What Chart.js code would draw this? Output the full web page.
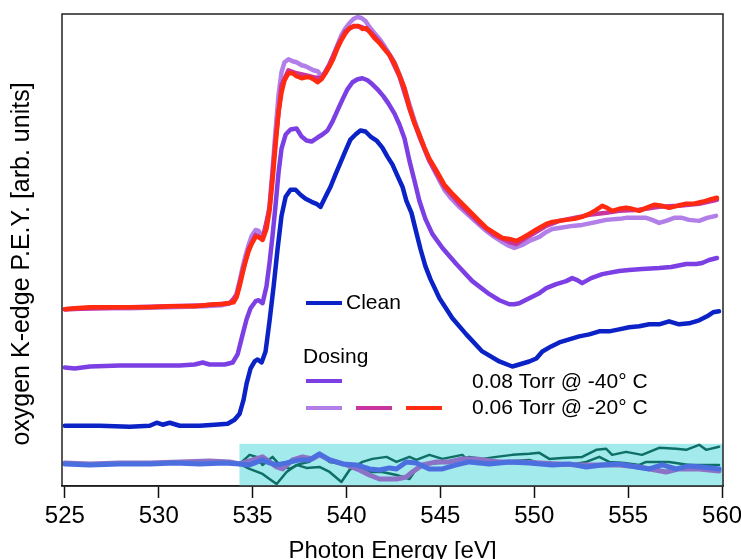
<!DOCTYPE html>
<html>
<head>
<meta charset="utf-8">
<script src="https://cdn.jsdelivr.net/npm/chart.js@4.4.1/dist/chart.umd.min.js"></script>
<style>
  html, body { margin: 0; padding: 0; background: #fff; }
  #wrap { width: 741px; height: 559px; }
</style>
</head>
<body>
<div id="wrap"><canvas id="xas" width="741" height="559"></canvas></div>
<script>
// O K-edge spectra, [photon energy eV, signal arb.]
const clean = [[525.00,0.60],[526.86,0.60],[528.46,0.59],[529.52,0.60],[529.89,0.63],[530.21,0.61],[530.59,0.63],[531.12,0.60],[532.18,0.60],[532.98,0.61],[533.67,0.62],[534.04,0.66],[534.31,0.72],[534.52,0.86],[534.68,1.02],[534.89,1.17],[535.11,1.24],[535.27,1.26],[535.48,1.23],[535.69,1.34],[535.90,1.64],[536.12,1.99],[536.33,2.36],[536.54,2.69],[536.76,2.88],[537.02,2.95],[537.29,2.95],[537.55,2.90],[537.82,2.86],[538.14,2.83],[538.40,2.81],[538.62,2.78],[538.88,2.88],[539.15,2.98],[539.41,3.10],[539.68,3.22],[539.95,3.34],[540.21,3.45],[540.48,3.50],[540.74,3.54],[541.01,3.53],[541.28,3.48],[541.60,3.44],[541.91,3.37],[542.18,3.28],[542.45,3.20],[542.71,3.09],[542.98,2.98],[543.19,2.84],[543.46,2.72],[543.67,2.56],[543.94,2.36],[544.20,2.19],[544.47,2.06],[544.95,1.87],[545.64,1.67],[546.38,1.51],[547.23,1.34],[548.14,1.24],[548.83,1.19],[549.20,1.21],[549.73,1.24],[550.11,1.27],[550.43,1.34],[550.90,1.39],[551.33,1.43],[551.86,1.46],[552.39,1.49],[552.93,1.51],[553.46,1.54],[553.99,1.54],[554.52,1.56],[555.05,1.58],[555.59,1.59],[556.12,1.61],[556.65,1.61],[557.18,1.64],[557.71,1.61],[558.24,1.62],[558.78,1.65],[559.20,1.69],[559.52,1.73],[559.84,1.74]];

const dose08 = [[525.00,1.18],[525.53,1.17],[526.33,1.19],[527.93,1.20],[529.52,1.20],[531.12,1.20],[531.91,1.21],[532.34,1.23],[532.71,1.21],[533.51,1.21],[533.94,1.23],[534.20,1.31],[534.47,1.51],[534.68,1.66],[534.89,1.77],[535.16,1.84],[535.32,1.85],[535.53,1.82],[535.74,1.99],[535.90,2.22],[536.06,2.49],[536.22,2.79],[536.38,3.12],[536.54,3.36],[536.76,3.50],[537.02,3.55],[537.34,3.56],[537.61,3.48],[537.87,3.44],[538.14,3.43],[538.46,3.47],[538.72,3.50],[538.99,3.54],[539.26,3.63],[539.52,3.74],[539.79,3.85],[540.05,3.95],[540.32,4.02],[540.59,4.05],[540.85,4.06],[541.12,4.04],[541.38,4.00],[541.65,3.95],[541.97,3.88],[542.23,3.81],[542.55,3.71],[542.82,3.60],[543.09,3.46],[543.35,3.24],[543.62,3.04],[543.88,2.84],[544.20,2.66],[544.57,2.51],[545.11,2.37],[545.85,2.21],[546.70,2.04],[547.61,1.91],[548.14,1.85],[548.67,1.81],[548.94,1.81],[549.20,1.82],[549.73,1.87],[550.27,1.92],[550.64,1.97],[551.17,2.01],[551.70,2.04],[552.02,2.07],[552.29,2.05],[552.55,2.02],[553.03,2.07],[553.62,2.11],[554.52,2.14],[555.05,2.15],[555.74,2.16],[556.65,2.17],[557.29,2.18],[558.09,2.21],[558.62,2.21],[558.94,2.22],[559.31,2.25],[559.73,2.27]];

const dose06a = [[525.00,1.76],[526.33,1.77],[528.46,1.77],[530.59,1.78],[532.45,1.79],[533.35,1.80],[533.78,1.82],[533.99,1.86],[534.15,1.92],[534.31,2.04],[534.47,2.18],[534.63,2.30],[534.79,2.40],[534.95,2.49],[535.16,2.55],[535.32,2.54],[535.53,2.48],[535.74,2.59],[535.90,2.79],[536.06,3.14],[536.22,3.54],[536.38,3.89],[536.54,4.12],[536.70,4.22],[536.91,4.25],[537.13,4.23],[537.34,4.22],[537.61,4.19],[537.82,4.18],[538.03,4.16],[538.24,4.14],[538.46,4.13],[538.67,4.08],[538.88,4.12],[539.10,4.20],[539.31,4.29],[539.52,4.39],[539.73,4.49],[539.95,4.56],[540.16,4.61],[540.37,4.65],[540.59,4.67],[540.80,4.66],[541.01,4.63],[541.22,4.57],[541.49,4.51],[541.76,4.45],[542.02,4.38],[542.29,4.30],[542.55,4.22],[542.82,4.10],[543.09,3.96],[543.35,3.80],[543.62,3.64],[543.88,3.50],[544.15,3.36],[544.41,3.24],[544.79,3.10],[545.21,2.95],[545.59,2.86],[546.01,2.78],[546.54,2.69],[547.07,2.60],[547.45,2.54],[547.87,2.48],[548.30,2.43],[548.67,2.39],[548.94,2.37],[549.36,2.40],[549.73,2.44],[550.27,2.48],[550.64,2.53],[550.96,2.56],[551.33,2.57],[552.02,2.59],[552.55,2.60],[553.09,2.62],[553.83,2.65],[554.52,2.66],[554.89,2.67],[555.59,2.67],[555.96,2.67],[556.28,2.65],[556.65,2.62],[557.02,2.64],[557.45,2.67],[557.87,2.67],[558.24,2.65],[558.78,2.64],[559.20,2.67],[559.68,2.69]];

const dose06b = [[525.00,1.76],[528.46,1.78],[532.45,1.80],[533.78,1.82],[534.15,1.90],[534.47,2.14],[534.79,2.36],[535.16,2.50],[535.53,2.46],[535.90,2.76],[536.22,3.44],[536.54,3.99],[536.91,4.14],[537.34,4.11],[537.82,4.09],[538.24,4.07],[538.67,4.06],[539.10,4.20],[539.52,4.38],[539.95,4.53],[540.37,4.58],[540.80,4.57],[541.22,4.53],[541.76,4.42],[542.29,4.29],[542.82,4.08],[543.35,3.76],[543.88,3.48],[544.41,3.24],[545.21,2.98],[546.01,2.81],[547.07,2.62],[547.87,2.50],[548.67,2.43],[549.04,2.41],[549.73,2.49],[550.64,2.59],[551.33,2.64],[552.13,2.67],[552.93,2.70],[553.83,2.72],[554.52,2.74],[555.59,2.75],[556.65,2.78],[557.71,2.79],[558.78,2.81],[559.73,2.85]];

const dose06c = [[525.00,1.76],[525.53,1.77],[526.33,1.78],[527.39,1.78],[528.46,1.78],[529.52,1.78],[530.59,1.79],[531.38,1.79],[531.91,1.79],[532.45,1.80],[532.98,1.81],[533.35,1.81],[533.67,1.82],[533.99,1.83],[534.15,1.88],[534.31,1.99],[534.47,2.12],[534.63,2.24],[534.79,2.34],[534.95,2.41],[535.16,2.48],[535.32,2.48],[535.53,2.45],[535.74,2.56],[535.90,2.74],[536.06,3.04],[536.22,3.39],[536.38,3.72],[536.54,3.92],[536.70,4.04],[536.91,4.11],[537.13,4.11],[537.34,4.08],[537.61,4.06],[537.82,4.07],[538.03,4.07],[538.24,4.05],[538.46,4.02],[538.67,4.05],[538.88,4.11],[539.10,4.18],[539.31,4.26],[539.52,4.36],[539.73,4.44],[539.95,4.51],[540.16,4.56],[540.43,4.58],[540.64,4.58],[540.85,4.55],[541.06,4.56],[541.28,4.51],[541.49,4.46],[541.76,4.41],[542.02,4.35],[542.29,4.29],[542.55,4.21],[542.82,4.09],[543.09,3.96],[543.35,3.77],[543.62,3.61],[543.88,3.50],[544.15,3.37],[544.41,3.26],[544.79,3.14],[545.21,3.00],[545.59,2.92],[546.01,2.84],[546.54,2.74],[547.07,2.64],[547.45,2.57],[547.87,2.52],[548.30,2.47],[548.67,2.46],[549.04,2.44],[549.36,2.47],[549.73,2.51],[550.16,2.56],[550.64,2.61],[550.96,2.63],[551.33,2.64],[551.70,2.65],[552.13,2.66],[552.55,2.68],[552.93,2.71],[553.30,2.75],[553.62,2.79],[553.88,2.77],[554.15,2.74],[554.52,2.76],[554.89,2.77],[555.21,2.76],[555.59,2.74],[555.96,2.77],[556.38,2.80],[556.81,2.79],[557.18,2.77],[557.61,2.79],[558.09,2.81],[558.51,2.81],[558.94,2.83],[559.31,2.85],[559.73,2.87]];

// difference traces along the bottom
const resBlue = [[525.00,0.22],[526.33,0.21],[527.93,0.22],[529.52,0.22],[530.85,0.23],[532.18,0.22],[533.51,0.23],[534.31,0.22],[534.84,0.21],[535.53,0.26],[535.90,0.23],[536.28,0.21],[536.81,0.23],[537.50,0.26],[538.03,0.26],[538.56,0.32],[539.10,0.26],[539.79,0.22],[540.53,0.21],[541.22,0.17],[541.76,0.16],[542.29,0.18],[542.66,0.17],[543.19,0.24],[543.72,0.23],[544.41,0.17],[545.11,0.17],[545.85,0.21],[546.54,0.24],[547.61,0.22],[548.67,0.24],[549.73,0.23],[550.96,0.21],[551.86,0.22],[552.77,0.19],[553.62,0.21],[554.52,0.22],[555.43,0.19],[556.12,0.17],[556.81,0.21],[557.55,0.17],[558.24,0.20],[558.94,0.19],[559.84,0.17]];

const resPurple = [[525.00,0.23],[526.33,0.22],[527.93,0.23],[529.52,0.23],[531.12,0.24],[532.71,0.25],[533.78,0.24],[534.31,0.22],[535.00,0.26],[535.53,0.29],[536.28,0.19],[536.60,0.17],[537.13,0.26],[537.66,0.29],[538.19,0.27],[538.56,0.31],[539.10,0.26],[540.00,0.21],[540.69,0.16],[541.22,0.11],[541.76,0.07],[542.66,0.07],[543.19,0.09],[543.51,0.14],[544.04,0.21],[544.79,0.24],[545.48,0.24],[546.17,0.27],[546.91,0.27],[548.14,0.24],[549.20,0.24],[550.27,0.23],[551.33,0.22],[552.39,0.21],[553.46,0.21],[554.52,0.21],[555.59,0.19],[557.02,0.14],[557.71,0.17],[558.78,0.17],[559.84,0.15]];

const resTealA = [[534.31,0.22],[534.84,0.31],[535.21,0.29],[535.53,0.21],[536.06,0.29],[536.44,0.21],[536.97,0.17],[537.50,0.22],[538.03,0.24],[538.56,0.32],[539.10,0.24],[539.79,0.22],[540.53,0.17],[541.22,0.14],[541.91,0.14],[542.66,0.11],[543.35,0.07],[543.72,0.17],[544.41,0.22],[545.32,0.24],[546.17,0.27],[546.54,0.29],[547.23,0.27],[547.98,0.29],[548.83,0.31],[549.73,0.32],[550.27,0.33],[550.80,0.27],[551.49,0.28],[552.55,0.29],[553.30,0.36],[553.83,0.37],[554.15,0.31],[554.89,0.34],[555.74,0.31],[556.65,0.38],[557.55,0.37],[558.09,0.36],[558.78,0.41],[559.15,0.36],[559.84,0.39]];

const resTealB = [[534.31,0.22],[534.84,0.17],[535.53,0.12],[535.90,0.07],[536.28,0.02],[536.81,0.14],[537.34,0.21],[537.87,0.18],[538.56,0.19],[539.10,0.14],[539.73,0.04],[540.16,0.16],[540.85,0.24],[541.38,0.27],[542.13,0.29],[542.66,0.24],[543.35,0.29],[543.72,0.26],[544.41,0.31],[545.11,0.27],[546.17,0.31],[546.54,0.24],[548.14,0.24],[549.73,0.26],[550.64,0.21],[551.86,0.21],[552.77,0.24],[553.46,0.29],[553.99,0.24],[554.79,0.23],[555.59,0.21],[555.96,0.24],[557.18,0.24],[558.24,0.21],[559.84,0.21]];

const xTicks = [525, 530, 535, 540, 545, 550, 555, 560];
const diffBand = [534.3, 0.42];   // start energy, top of shaded difference band

const ink = '#111';
const font = '"Liberation Sans", Arial, sans-serif';

const pts = arr => arr.map(([x, y]) => ({ x, y }));

function line(data, color, width) {
  return {
    data: pts(data),
    borderColor: color,
    borderWidth: width,
    pointRadius: 0,
    tension: 0,
    fill: false,
    borderJoinStyle: 'round',
    borderCapStyle: 'round'
  };
}

// shaded band behind the difference traces
const bandPlugin = {
  id: 'band',
  beforeDatasetsDraw(chart) {
    const { ctx, chartArea, scales } = chart;
    const x0 = scales.x.getPixelForValue(diffBand[0]);
    const yTop = scales.y.getPixelForValue(diffBand[1]);
    ctx.save();
    ctx.fillStyle = '#a3eaec';
    ctx.fillRect(x0, yTop, chartArea.right - x0, chartArea.bottom - yTop);
    ctx.restore();
  }
};

// box frame, y title and in-plot legend
const framePlugin = {
  id: 'frame',
  afterDatasetsDraw(chart) {
    const { ctx, chartArea: a } = chart;
    ctx.save();
    ctx.strokeStyle = '#222';
    ctx.lineWidth = 1.5;
    ctx.strokeRect(a.left, a.top, a.right - a.left, a.bottom - a.top);

    ctx.save();
    ctx.translate(22, 264);
    ctx.rotate(-Math.PI / 2);
    ctx.fillStyle = '#000';
    ctx.font = '25px ' + font;
    ctx.textAlign = 'center';
    ctx.textBaseline = 'middle';
    ctx.fillText('oxygen K-edge P.E.Y. [arb. units]', 0, 0);
    ctx.restore();

    const seg = (x, y, c) => {
      ctx.strokeStyle = c;
      ctx.lineWidth = 4;
      ctx.lineCap = 'butt';
      ctx.beginPath();
      ctx.moveTo(x, y);
      ctx.lineTo(x + 36, y);
      ctx.stroke();
    };
    ctx.fillStyle = '#000';
    ctx.font = '21px ' + font;
    ctx.textBaseline = 'middle';
    seg(306, 303, '#0b22c6');
    ctx.fillText('Clean', 346, 303);
    ctx.fillText('Dosing', 303, 357);
    seg(306, 381, '#7b3fe4');
    ctx.fillText('0.08 Torr @ -40° C', 472, 382);
    seg(306, 408, '#b27fe9');
    seg(356, 408, '#c8359f');
    seg(406, 408, '#ff2a10');
    ctx.fillText('0.06 Torr @ -20° C', 472, 408);
    ctx.restore();
  }
};

new Chart(document.getElementById('xas'), {
  type: 'line',
  data: {
    datasets: [
      line(dose06c, '#ff2a10', 4.5),
      line(dose06b, '#c8359f', 4.5),
      line(dose06a, '#b27fe9', 4.5),
      line(dose08, '#7b3fe4', 4.5),
      line(clean, '#0b22c6', 4.5),
      line(resBlue, '#4c6fe0', 5),
      line(resPurple, '#8c72c6', 5),
      line(resTealA, '#0e6f66', 2.5),
      line(resTealB, '#0e6f66', 2.5)
    ]
  },
  options: {
    responsive: false,
    animation: false,
    layout: { padding: { top: 14, right: 18, left: 62, bottom: -4 } },
    plugins: { legend: { display: false }, tooltip: { enabled: false } },
    scales: {
      x: {
        type: 'linear',
        min: 524.85,
        max: 560.05,
        afterBuildTicks: s => { s.ticks = xTicks.map(v => ({ value: v })); },
        afterFit: s => { s.paddingLeft = 0; s.paddingRight = 0; },
        ticks: { color: '#000', font: { family: font, size: 24, lineHeight: 1 }, padding: 6, maxRotation: 0 },
        grid: { drawOnChartArea: false, drawTicks: true, tickLength: 12, tickWidth: 1.5, tickColor: ink },
        border: { display: true, color: ink, width: 1.5 },
        title: { display: true, text: 'Photon Energy [eV]', color: '#000',
                 font: { family: font, size: 24, lineHeight: 1 }, padding: { top: 5, bottom: 0 } }
      },
      y: {
        display: false,
        min: 0,
        max: 4.70
      }
    }
  },
  plugins: [bandPlugin, framePlugin]
});
</script>
</body>
</html>
